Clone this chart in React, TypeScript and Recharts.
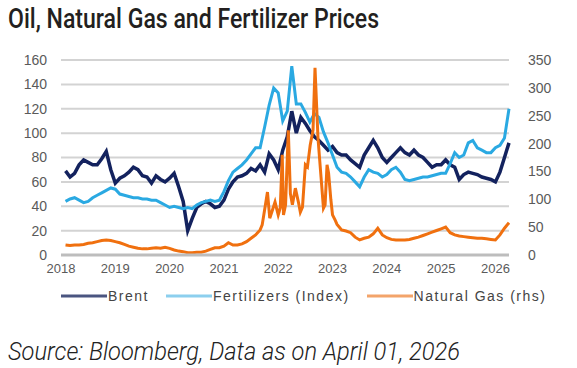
import React from 'react';
import { LineChart, Line, XAxis, YAxis, CartesianGrid, Legend } from 'recharts';

// month strings "YYYY-MM" starting at `start`
const monthRange = (start: string, count: number) => {
  const [y0, m0] = start.split('-').map(Number);
  const out: string[] = [];
  for (let i = 0; i < count; i++) {
    const idx = m0 - 1 + i;
    const y = y0 + Math.floor(idx / 12);
    const m = (idx % 12) + 1;
    out.push(`${y}-${String(m).padStart(2, '0')}`);
  }
  return out;
};

const toYear = (d: string) => {
  const [y, m, day] = d.split('-').map(Number);
  return y + (m - 1) / 12 + ((day || 1) - 1) / 365;
};

// Brent and fertilizers: monthly, Feb 2018 - Apr 2026
const months = monthRange('2018-02', 99);

const brent = [
  69, 64, 67, 74, 78, 76, 74, 74, 79, 85,
  70, 59, 63, 65, 68, 72, 70, 65, 64, 59,
  65, 62, 60, 63, 67, 56, 44, 20, 30, 39,
  42, 44, 42, 39, 40, 45, 54, 60, 64, 65,
  67, 71, 69, 74, 68, 83, 78, 70, 86, 97,
  118, 100, 113, 108, 102, 97, 94, 90, 86, 89,
  84, 82, 82, 78, 75, 72, 82, 88, 94, 88,
  80, 76, 80, 84, 88, 84, 82, 86, 82, 80,
  76, 72, 74, 74, 78, 74, 72, 62, 66, 68,
  67, 66, 64, 63, 62, 60, 68, 80, 92,
];

const fertilizers = [
  44, 46, 47, 45, 43, 44, 47, 49, 51, 53,
  55, 54, 50, 49, 48, 47, 47, 46, 46, 45,
  45, 43, 41, 39, 40, 39, 38, 39, 38, 41,
  43, 44, 45, 44, 45, 52, 61, 68, 71, 74,
  78, 83, 88, 88, 105, 123, 137, 133, 110, 118,
  155, 124, 124, 117, 109, 116, 113, 101, 92, 82,
  72, 68, 67, 64, 60, 56, 64, 70, 68, 67,
  64, 66, 70, 72, 68, 62, 61, 62, 63, 64,
  64, 65, 66, 67, 67, 75, 84, 80, 82, 92,
  94, 88, 86, 84, 84, 88, 90, 96, 120,
];

// natural gas: monthly, with finer points through the 2021-22 spike
const gasSpikeDates = [
  '2021-09-15', '2021-10-05', '2021-10-20', '2021-11-05', '2021-11-20', '2021-12-10',
  '2022-01-01', '2022-01-15', '2022-01-28', '2022-02-06', '2022-02-20', '2022-03-08',
  '2022-03-22', '2022-04-05', '2022-04-25', '2022-05-15', '2022-05-28', '2022-06-12',
  '2022-07-01', '2022-07-15', '2022-08-03', '2022-08-22', '2022-09-05', '2022-09-25',
  '2022-10-15', '2022-11-01', '2022-11-12', '2022-11-25', '2022-12-05', '2022-12-20',
  '2023-01-01', '2023-01-18', '2023-02-01',
];
const gasDates = [...monthRange('2018-02', 44), ...gasSpikeDates, ...monthRange('2023-03', 38)];

const natGas = [
  18, 17, 18, 18, 19, 21, 22, 24, 26, 27,
  26, 24, 22, 19, 16, 14, 12, 11, 11, 12,
  13, 12, 14, 12, 9, 7, 6, 4, 4, 5,
  5, 7, 10, 13, 13, 16, 22, 18, 18, 20,
  24, 30, 36, 45,
  54, 88, 113, 66, 78, 95,
  72, 85, 180, 72, 90, 224,
  110, 90, 120, 95, 77, 86,
  162, 158, 197, 224, 336, 210,
  140, 84, 90, 162, 147, 100,
  72, 63, 55,
  45, 43, 40, 32, 27, 30, 32, 38, 48, 36,
  31, 28, 27, 27, 27, 28, 30, 32, 35, 38,
  41, 44, 47, 50, 40, 36, 34, 33, 32, 31,
  30, 30, 29, 28, 27, 36, 48, 58,
];

const years = [2018, 2019, 2020, 2021, 2022, 2023, 2024, 2025, 2026];
const leftTicks = [0, 20, 40, 60, 80, 100, 120, 140, 160];
const rightTicks = [0, 50, 100, 150, 200, 250, 300, 350];

const seriesNames = ['Brent', 'Fertilizers (Index)', 'Natural Gas (rhs)'];
const colors = ['#13225e', '#2aa9e2', '#f0700f'];
const legendColors = ['#4a5580', '#8ccfee', '#f3a46a'];

// merge both date grids into one table
const rows = new Map<number, any>();
const rowAt = (t: number) => {
  const k = Math.round(t * 10000) / 10000;
  if (!rows.has(k)) rows.set(k, { t: k });
  return rows.get(k);
};
months.forEach((d, i) => {
  const r = rowAt(toYear(d));
  r.brent = brent[i];
  r.fertilizers = fertilizers[i];
});
gasDates.forEach((d, i) => {
  rowAt(toYear(d)).gas = natGas[i];
});
const data = Array.from(rows.values()).sort((a, b) => a.t - b.t);

const tickStyle = { fill: '#5a5a5a', fontSize: 13, fontFamily: 'Liberation Sans, Arial, sans-serif' };

const LegendContent = () => (
  <div style={{ display: 'flex', alignItems: 'center', height: 28, paddingLeft: 61 }}>
    {seriesNames.map((name, i) => (
      <div key={name} style={{ display: 'flex', alignItems: 'center', marginRight: 17 }}>
        <svg width={46} height={4}>
          <line x1={0} y1={2} x2={46} y2={2} stroke={legendColors[i]} strokeWidth={3} />
        </svg>
        <span style={{
          fontFamily: 'Liberation Sans, Arial, sans-serif', fontSize: 14, letterSpacing: 1.5,
          color: '#444', marginLeft: 1,
        }}>{name}</span>
      </div>
    ))}
  </div>
);

export default function App() {
  return (
    <div style={{ position: 'absolute', left: 0, top: 0, width: 577, height: 368, background: '#fff' }}>
      <svg width={577} height={368} style={{ position: 'absolute', left: 0, top: 0 }}>
        <text x={8} y={28} fontSize={28} fontWeight={500} fill="#231f20"
          fontFamily="Roboto, sans-serif" textLength={371} lengthAdjust="spacingAndGlyphs">
          Oil, Natural Gas and Fertilizer Prices
        </text>
        <text x={8} y={360} fontSize={26} fontWeight={300} fontStyle="italic" fill="#222"
          fontFamily="Roboto, sans-serif" textLength={452} lengthAdjust="spacingAndGlyphs">
          Source: Bloomberg, Data as on April 01, 2026
        </text>
      </svg>
      <div style={{ position: 'absolute', left: 0, top: 40 }}>
        <LineChart width={577} height={270} data={data} margin={{ top: 20, right: 0, bottom: 0, left: 0 }}>
          <CartesianGrid yAxisId="left" vertical={false} stroke="#d3d3d3" strokeWidth={2} />
          <XAxis
            dataKey="t"
            type="number"
            domain={[2018, 2026.25]}
            ticks={years}
            height={27}
            tickLine={false}
            tickSize={0}
            tickMargin={9}
            tick={tickStyle}
            axisLine={{ stroke: '#bdbdbd', strokeWidth: 3 }}
          />
          <YAxis
            yAxisId="left"
            width={61}
            domain={[0, 160]}
            ticks={leftTicks}
            axisLine={false}
            tickLine={false}
            tickSize={0}
            tickMargin={14}
            tick={{ ...tickStyle, fontSize: 14 }}
          />
          <YAxis
            yAxisId="right"
            orientation="right"
            width={68}
            domain={[0, 350]}
            ticks={rightTicks}
            axisLine={false}
            tickLine={false}
            tickSize={0}
            tickMargin={19}
            tick={{ ...tickStyle, fontSize: 14 }}
          />
          <Legend verticalAlign="bottom" height={28} wrapperStyle={{ left: 0, width: 577 }} content={<LegendContent />} />
          <Line yAxisId="left" name={seriesNames[0]} dataKey="brent" stroke={colors[0]} strokeWidth={3.5}
            dot={false} connectNulls isAnimationActive={false} />
          <Line yAxisId="left" name={seriesNames[1]} dataKey="fertilizers" stroke={colors[1]} strokeWidth={3}
            dot={false} connectNulls isAnimationActive={false} />
          <Line yAxisId="right" name={seriesNames[2]} dataKey="gas" stroke={colors[2]} strokeWidth={3}
            dot={false} connectNulls isAnimationActive={false} />
        </LineChart>
      </div>
    </div>
  );
}
